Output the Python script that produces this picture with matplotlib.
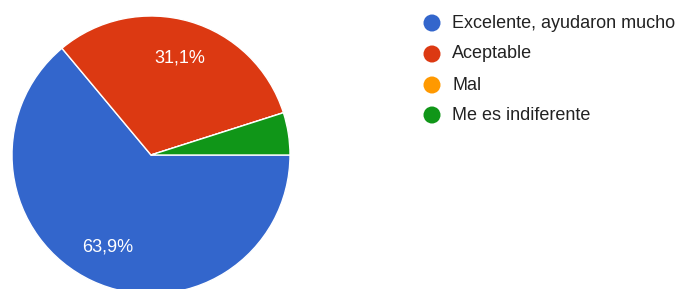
import matplotlib.pyplot as plt

plt.rcParams['font.family'] = ['Liberation Sans', 'DejaVu Sans']

# answers (response counts) -> 63,9% / 31,1% / 0% / 4,9%
labels = ["Excelente, ayudaron mucho", "Aceptable", "Mal", "Me es indiferente"]
counts = [39, 19, 0, 3]
colors = ["#3366cc", "#dc3912", "#ff9900", "#109618"]

W, H = 687, 289
fig = plt.figure(figsize=(W / 100, H / 100), dpi=100)

# pie axes: center (151,155) px, radius 139 px
cx, cy, r = 151, 155, 139
ax = fig.add_axes([(cx - r) / W, (H - cy - r) / H, 2 * r / W, 2 * r / H])


def pct_label(p):
    if p < 10:
        return ""
    return f"{p:.1f}".replace(".", ",") + "%"


wedges, texts, autotexts = ax.pie(
    counts, colors=colors, startangle=0, counterclock=False,
    autopct=pct_label, pctdistance=0.73, radius=1.0,
    wedgeprops=dict(edgecolor="white", linewidth=1.0),
    textprops=dict(color="white", fontsize=13))
ax.set_xlim(-1, 1)
ax.set_ylim(-1, 1)
ax.set_aspect("equal")
ax.axis("off")

# legend drawn in pixel coords
lax = fig.add_axes([0, 0, 1, 1])
lax.set_xlim(0, W)
lax.set_ylim(H, 0)
lax.axis("off")
row_y = [23, 54, 85, 115]
for lab, col, y in zip(labels, colors, row_y):
    lax.scatter([432], [y], s=150, color=col, edgecolors="none")
    lax.text(452, y, lab, fontsize=13, color="#222222", va="center", ha="left")

fig.savefig("out.png", dpi=100)
